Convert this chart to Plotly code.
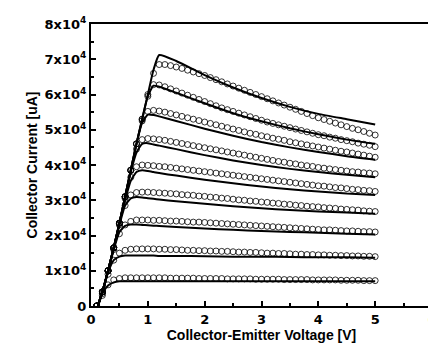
import numpy as np
import plotly.graph_objects as go

# Units: current values are in 10^4 uA
sim_V = [0.12, 0.2, 0.3, 0.4, 0.5, 0.6, 0.7, 0.8, 0.9, 1.0, 1.1, 1.2,
         1.5, 2.0, 2.5, 3.0, 3.5, 4.0, 4.5, 5.0]

sim_I = [
    [0, 0.35, 0.58, 0.67, 0.70, 0.70, 0.70, 0.70, 0.70, 0.70, 0.70, 0.70, 0.70, 0.70, 0.70, 0.70, 0.70, 0.70, 0.70, 0.70],
    [0, 0.40, 0.95, 1.30, 1.40, 1.43, 1.43, 1.43, 1.43, 1.43, 1.43, 1.42, 1.42, 1.41, 1.40, 1.40, 1.39, 1.38, 1.38, 1.37],
    [0, 0.40, 1.00, 1.60, 2.10, 2.27, 2.31, 2.31, 2.30, 2.29, 2.28, 2.27, 2.24, 2.20, 2.16, 2.13, 2.10, 2.08, 2.05, 2.03],
    [0, 0.40, 1.00, 1.65, 2.30, 2.85, 3.05, 3.09, 3.08, 3.06, 3.04, 3.02, 2.97, 2.90, 2.83, 2.77, 2.72, 2.68, 2.65, 2.62],
    [0, 0.40, 1.00, 1.65, 2.35, 3.00, 3.55, 3.80, 3.85, 3.83, 3.80, 3.77, 3.70, 3.58, 3.48, 3.39, 3.31, 3.25, 3.19, 3.15],
    [0, 0.40, 1.00, 1.65, 2.35, 3.10, 3.80, 4.35, 4.60, 4.62, 4.58, 4.55, 4.45, 4.28, 4.13, 4.00, 3.89, 3.80, 3.72, 3.65],
    [0, 0.40, 1.00, 1.65, 2.35, 3.10, 3.85, 4.60, 5.20, 5.43, 5.42, 5.38, 5.25, 5.03, 4.83, 4.65, 4.50, 4.37, 4.25, 4.15],
    [0, 0.40, 1.00, 1.65, 2.35, 3.10, 3.85, 4.60, 5.30, 5.95, 6.25, 6.22, 6.05, 5.75, 5.47, 5.24, 5.04, 4.87, 4.72, 4.60],
    [0, 0.40, 1.00, 1.65, 2.35, 3.10, 3.85, 4.60, 5.30, 6.00, 6.70, 7.12, 6.95, 6.55, 6.20, 5.90, 5.65, 5.45, 5.30, 5.15],
]

meas_V = [0.1, 0.2, 0.3, 0.4, 0.5, 0.6, 0.7, 0.8, 0.9, 1.0,
          1.1, 1.2, 1.3, 1.4, 1.5, 1.6, 1.7, 1.8, 1.9, 2.0,
          2.1, 2.2, 2.3, 2.4, 2.5, 2.6, 2.7, 2.8, 2.9, 3.0,
          3.1, 3.2, 3.3, 3.4, 3.5, 3.6, 3.7, 3.8, 3.9, 4.0,
          4.1, 4.2, 4.3, 4.4, 4.5, 4.6, 4.7, 4.8, 4.9, 5.0]

meas_I0 = [0.00, 0.30, 0.60, 0.74, 0.78, 0.80, 0.80, 0.80, 0.80, 0.80,
           0.80, 0.80, 0.80, 0.79, 0.79, 0.79, 0.79, 0.79, 0.78, 0.78,
           0.78, 0.78, 0.78, 0.77, 0.77, 0.77, 0.77, 0.77, 0.76, 0.76,
           0.76, 0.76, 0.76, 0.75, 0.75, 0.75, 0.75, 0.75, 0.74, 0.74,
           0.74, 0.74, 0.74, 0.73, 0.73, 0.73, 0.73, 0.72, 0.72, 0.72]
meas_I1 = [0.00, 0.35, 0.90, 1.30, 1.50, 1.58, 1.61, 1.62, 1.62, 1.62,
           1.62, 1.61, 1.61, 1.60, 1.60, 1.59, 1.58, 1.58, 1.57, 1.57,
           1.56, 1.56, 1.55, 1.55, 1.54, 1.53, 1.53, 1.52, 1.52, 1.51,
           1.50, 1.50, 1.49, 1.49, 1.48, 1.47, 1.47, 1.46, 1.46, 1.45,
           1.45, 1.44, 1.44, 1.43, 1.43, 1.42, 1.42, 1.41, 1.41, 1.40]
meas_I2 = [0.00, 0.40, 1.00, 1.60, 2.05, 2.30, 2.40, 2.44, 2.44, 2.44,
           2.43, 2.43, 2.42, 2.41, 2.41, 2.40, 2.39, 2.38, 2.38, 2.37,
           2.36, 2.35, 2.34, 2.33, 2.32, 2.31, 2.30, 2.29, 2.28, 2.27,
           2.26, 2.25, 2.24, 2.23, 2.22, 2.21, 2.20, 2.19, 2.18, 2.17,
           2.16, 2.16, 2.15, 2.14, 2.13, 2.13, 2.12, 2.11, 2.11, 2.10]
meas_I3 = [0.00, 0.40, 1.00, 1.65, 2.30, 2.85, 3.15, 3.22, 3.23, 3.23,
           3.22, 3.21, 3.20, 3.19, 3.18, 3.16, 3.15, 3.14, 3.12, 3.11,
           3.09, 3.08, 3.06, 3.05, 3.03, 3.01, 3.00, 2.98, 2.97, 2.95,
           2.94, 2.92, 2.91, 2.89, 2.88, 2.86, 2.85, 2.83, 2.82, 2.81,
           2.79, 2.78, 2.77, 2.75, 2.74, 2.73, 2.72, 2.70, 2.69, 2.68]
meas_I4 = [0.00, 0.40, 1.00, 1.65, 2.35, 3.05, 3.65, 3.95, 4.00, 3.99,
           3.98, 3.96, 3.95, 3.93, 3.91, 3.89, 3.87, 3.85, 3.83, 3.81,
           3.79, 3.77, 3.75, 3.73, 3.71, 3.69, 3.67, 3.65, 3.63, 3.61,
           3.59, 3.57, 3.55, 3.53, 3.51, 3.49, 3.47, 3.45, 3.43, 3.41,
           3.40, 3.38, 3.36, 3.35, 3.33, 3.31, 3.30, 3.28, 3.27, 3.25]
meas_I5 = [0.00, 0.40, 1.00, 1.65, 2.35, 3.10, 3.85, 4.45, 4.72, 4.75,
           4.74, 4.72, 4.70, 4.67, 4.64, 4.61, 4.58, 4.55, 4.52, 4.49,
           4.46, 4.43, 4.40, 4.37, 4.34, 4.31, 4.28, 4.25, 4.22, 4.19,
           4.16, 4.13, 4.10, 4.08, 4.05, 4.03, 4.00, 3.98, 3.96, 3.93,
           3.91, 3.89, 3.87, 3.85, 3.83, 3.81, 3.80, 3.78, 3.77, 3.75]
meas_I6 = [0.00, 0.40, 1.00, 1.65, 2.35, 3.10, 3.85, 4.60, 5.25, 5.52,
           5.55, 5.53, 5.50, 5.46, 5.42, 5.38, 5.34, 5.30, 5.26, 5.22,
           5.18, 5.14, 5.10, 5.06, 5.02, 4.98, 4.94, 4.90, 4.87, 4.83,
           4.80, 4.76, 4.73, 4.70, 4.66, 4.63, 4.60, 4.57, 4.54, 4.51,
           4.48, 4.45, 4.42, 4.39, 4.37, 4.34, 4.31, 4.28, 4.25, 4.22]
meas_I7 = [0.00, 0.40, 1.00, 1.65, 2.35, 3.10, 3.85, 4.60, 5.30, 5.95,
           6.28, 6.27, 6.22, 6.16, 6.10, 6.04, 5.98, 5.92, 5.86, 5.80,
           5.74, 5.68, 5.62, 5.57, 5.52, 5.47, 5.42, 5.37, 5.32, 5.27,
           5.22, 5.18, 5.14, 5.10, 5.06, 5.02, 4.98, 4.94, 4.90, 4.86,
           4.83, 4.79, 4.76, 4.72, 4.69, 4.66, 4.62, 4.59, 4.56, 4.52]
meas_I8 = [0.00, 0.40, 1.00, 1.65, 2.35, 3.10, 3.85, 4.60, 5.30, 6.00,
           6.60, 6.85, 6.85, 6.82, 6.78, 6.74, 6.69, 6.64, 6.59, 6.54,
           6.48, 6.42, 6.36, 6.30, 6.24, 6.18, 6.12, 6.06, 6.00, 5.94,
           5.88, 5.82, 5.76, 5.70, 5.64, 5.58, 5.52, 5.46, 5.40, 5.34,
           5.29, 5.24, 5.19, 5.14, 5.09, 5.04, 5.00, 4.95, 4.90, 4.85]

meas_I = [meas_I0, meas_I1, meas_I2, meas_I3, meas_I4, meas_I5, meas_I6, meas_I7, meas_I8]

y_tickvals = [0, 1, 2, 3, 4, 5, 6, 7, 8]
y_ticktext = ["0"] + [f"{k}x10<sup>4</sup>" for k in range(1, 9)]
x_tickvals = [0, 1, 2, 3, 4, 5, 6]

SCALE = 1e4  # 10^4 uA

fig = go.Figure()
for mi in meas_I:
    fig.add_trace(go.Scatter(
        x=meas_V, y=np.array(mi) * SCALE, mode="markers",
        marker=dict(symbol="circle-open", size=6, color="black", line=dict(width=0.8)),
        showlegend=False, hoverinfo="skip"))
for si in sim_I:
    fig.add_trace(go.Scatter(
        x=sim_V, y=np.array(si) * SCALE, mode="lines",
        line=dict(color="black", width=2, shape="spline", smoothing=0.5),
        showlegend=False, hoverinfo="skip"))

title_font = "Liberation Sans, Arial, sans-serif"
tick_font = "DejaVu Sans, Verdana, sans-serif"
fig.update_layout(
    width=436, height=345,
    margin=dict(l=83, r=7, t=16, b=47),
    paper_bgcolor="white", plot_bgcolor="white",
    font=dict(family=title_font, color="black"),
    xaxis=dict(
        range=[0, 6], tickvals=x_tickvals, ticks="inside", ticklen=5, tickwidth=1.5,
        tickcolor="black", showline=True, linecolor="black", linewidth=2, mirror=True,
        showgrid=False, zeroline=False,
        minor=dict(dtick=0.5, ticks="inside", ticklen=3, tickcolor="black", showgrid=False),
        tickfont=dict(family=tick_font, size=13, weight="bold"),
        title=dict(text="Collector-Emitter Voltage [V]",
                   font=dict(family=title_font, size=14, weight="bold"), standoff=2),
    ),
    yaxis=dict(
        range=[0, 8 * SCALE], tickvals=[v * SCALE for v in y_tickvals], ticktext=y_ticktext,
        ticks="inside", ticklen=5, tickwidth=1.5, tickcolor="black",
        showline=True, linecolor="black", linewidth=2, mirror=True,
        showgrid=False, zeroline=False,
        minor=dict(dtick=0.5 * SCALE, ticks="inside", ticklen=3, tickcolor="black", showgrid=False),
        tickfont=dict(family=tick_font, size=13, weight="bold"),
        title=dict(text="Collector Current [uA]",
                   font=dict(family=title_font, size=14, weight="bold"), standoff=4),
    ),
)

fig.write_html("out.html")
